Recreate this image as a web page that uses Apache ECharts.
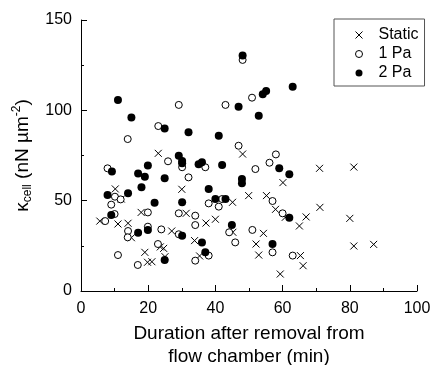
<!DOCTYPE html>
<html>
<head>
<meta charset="utf-8">
<script src="https://cdn.jsdelivr.net/npm/echarts@6/dist/echarts.min.js"></script>
<style>
  html, body { margin: 0; padding: 0; background: #fff; }
  #chart { width: 431px; height: 365px; }
</style>
</head>
<body>
<div id="chart"></div>
<script>
// [duration (min), kappa (nN/um^2)]
const staticPts = [
  [5.6, 38.7], [10.2, 56.5], [11.0, 37.1], [12.0, 50.9], [14.0, 37.5], [15.0, 29.5],
  [17.9, 43.5], [19.0, 21.4], [19.8, 15.9], [21.1, 16.2], [23.0, 76.2], [23.6, 24.4],
  [24.6, 23.6], [25.0, 19.0], [27.0, 33.2], [30.0, 56.3], [31.3, 43.0], [33.8, 27.9],
  [35.3, 19.4], [37.2, 37.6], [40.0, 39.7], [45.1, 49.1], [45.2, 32.5], [48.1, 75.8],
  [49.9, 52.8], [52.1, 26.0], [52.9, 19.9], [54.3, 31.9], [55.2, 52.8], [57.9, 45.2],
  [59.3, 9.4], [60.1, 60.0], [60.8, 40.8], [65.0, 36.0], [65.3, 19.6], [66.1, 14.0],
  [67.0, 41.0], [71.0, 67.9], [71.1, 46.3], [80.0, 40.2], [81.2, 24.9], [81.2, 68.6],
  [87.1, 25.8]
];
const pa1Pts = [
  [7.2, 38.7], [7.9, 67.9], [9.0, 47.8], [10.1, 52.2], [10.0, 42.6], [11.0, 19.9],
  [11.8, 50.7], [13.9, 84.1], [14.0, 33.2], [13.9, 29.7], [16.9, 14.4], [19.9, 43.5],
  [19.9, 35.6], [23.0, 91.3], [22.9, 26.0], [23.9, 34.1], [25.9, 71.8], [29.1, 103.0],
  [29.1, 43.0], [29.1, 31.4], [30.1, 68.5], [32.0, 62.9], [34.0, 41.7], [34.0, 36.5],
  [34.0, 16.8], [37.0, 68.5], [38.0, 48.5], [38.0, 19.6], [41.0, 46.7], [42.0, 50.9],
  [43.0, 103.0], [44.1, 32.5], [45.9, 26.9], [46.9, 80.4], [48.1, 127.9], [50.9, 107.0],
  [51.0, 33.8], [51.9, 67.5], [56.1, 71.0], [57.0, 49.8], [57.0, 21.4], [58.0, 75.6],
  [60.0, 43.0], [63.0, 19.6]
];
const pa2Pts = [
  [7.9, 53.1], [9.0, 42.1], [9.2, 66.1], [11.0, 105.7], [14.0, 54.1], [15.0, 96.1],
  [17.0, 65.1], [17.0, 32.3], [18.0, 57.4], [19.0, 63.3], [19.9, 69.4], [19.9, 33.8],
  [21.9, 48.9], [24.9, 90.0], [24.9, 62.4], [24.9, 17.2], [29.1, 74.9], [30.1, 72.0],
  [30.1, 70.7], [30.1, 49.1], [30.1, 30.6], [32.0, 87.8], [35.0, 70.1], [36.0, 71.2],
  [36.0, 26.9], [37.0, 21.4], [38.0, 56.5], [40.0, 50.9], [41.0, 86.0], [42.0, 69.7],
  [43.0, 50.9], [44.9, 36.5], [46.9, 102.0], [47.9, 62.0], [47.9, 59.6], [48.1, 130.3],
  [52.9, 97.0], [54.1, 108.9], [55.1, 110.7], [57.0, 26.0], [59.0, 67.9], [62.0, 40.6],
  [62.0, 64.6], [63.0, 113.1]
];
const seriesNames = ['Static', '1 Pa', '2 Pa'];

const font = '"Liberation Sans", Arial, sans-serif';
const crossPath = 'path://M0,0L10,10M10,0L0,10';

const chart = echarts.init(document.getElementById('chart'));

const option = {
  animation: false,
  textStyle: { fontFamily: font, color: '#000' },
  grid: { left: 81, right: 14, top: 20, bottom: 74, outerBoundsMode: 'none' },
  legend: {
    data: [
      { name: seriesNames[0], itemStyle: { borderWidth: 1 } },
      { name: seriesNames[1], itemStyle: { borderWidth: 1 } },
      { name: seriesNames[2] }
    ],
    orient: 'vertical',
    left: 334,
    top: 19,
    padding: [8, 6, 5, 21],
    itemGap: 3,
    itemWidth: 7,
    itemHeight: 7,
    borderColor: '#555',
    borderWidth: 1,
    textStyle: { fontSize: 16, lineHeight: 16, color: '#000', padding: [0, 0, 0, 11] }
  },
  xAxis: {
    type: 'value',
    min: 0,
    max: 100,
    interval: 20,
    name: 'Duration after removal from\nflow chamber (min)',
    nameLocation: 'middle',
    nameGap: 30,
    nameTextStyle: { fontSize: 19, lineHeight: 23, color: '#000' },
    axisLine: { lineStyle: { color: '#000', width: 1 } },
    axisTick: { inside: true, length: 6, lineStyle: { color: '#000' } },
    minorTick: { show: true, splitNumber: 2, length: 3, lineStyle: { color: '#000' } },
    splitLine: { show: false },
    axisLabel: { fontSize: 16, color: '#000', margin: 10 }
  },
  yAxis: {
    type: 'value',
    min: 0,
    max: 150,
    interval: 50,
    name: '{k|κ}{sub|cell}{k| (nN µm}{sup|-2}{k|)}',
    nameLocation: 'middle',
    nameGap: 47,
    nameTextStyle: {
      color: '#000',
      rich: {
        k: { fontSize: 19, fontFamily: font, color: '#000' },
        sub: { fontSize: 12, fontFamily: font, color: '#000', padding: [11, 0, 0, 0] },
        sup: { fontSize: 12, fontFamily: font, color: '#000', padding: [0, 0, 11, 0] }
      }
    },
    axisLine: { show: true, lineStyle: { color: '#000', width: 1 } },
    axisTick: { show: true, inside: true, length: 6, lineStyle: { color: '#000' } },
    minorTick: { show: true, splitNumber: 2, length: 3, lineStyle: { color: '#000' } },
    splitLine: { show: false },
    axisLabel: { fontSize: 16, color: '#000', margin: 9 }
  },
  series: [
    {
      name: seriesNames[0],
      type: 'scatter',
      symbol: crossPath,
      symbolSize: 7,
      data: staticPts,
      itemStyle: { color: 'rgba(0,0,0,0)', borderColor: '#000', borderWidth: 1, opacity: 1 }
    },
    {
      name: seriesNames[1],
      type: 'scatter',
      symbol: 'circle',
      symbolSize: 7,
      data: pa1Pts,
      itemStyle: { color: '#fff', borderColor: '#000', borderWidth: 1, opacity: 1 }
    },
    {
      name: seriesNames[2],
      type: 'scatter',
      symbol: 'circle',
      symbolSize: 8,
      data: pa2Pts,
      itemStyle: { color: '#000', opacity: 1 }
    }
  ]
};

chart.setOption(option);
</script>
</body>
</html>
